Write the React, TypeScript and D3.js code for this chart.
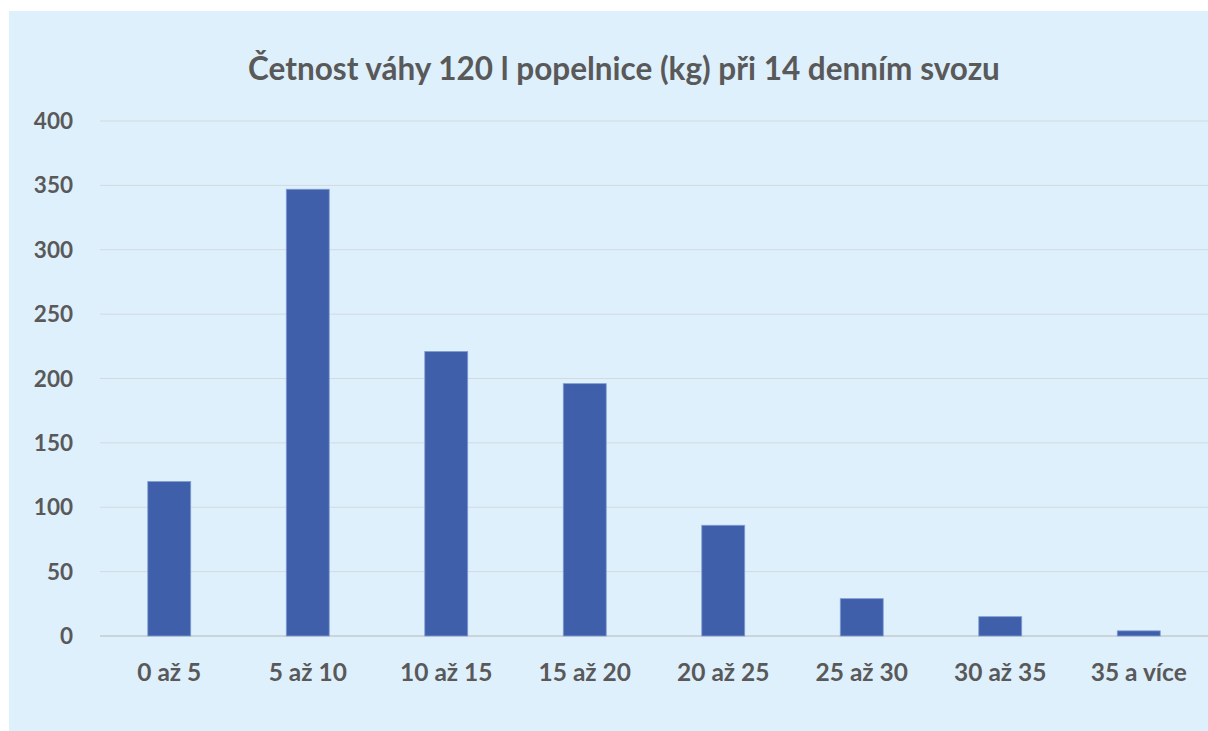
import React from "react";
import * as d3 from "d3";

const categories = ["0 až 5", "5 až 10", "10 až 15", "15 až 20", "20 až 25", "25 až 30", "30 až 35", "35 a více"];
const values = [120, 347, 221, 196, 86, 29, 15, 4];
const yTicks = [0, 50, 100, 150, 200, 250, 300, 350, 400];
const title = "Četnost váhy 120 l popelnice (kg) při 14 denním svozu";

const W = 1208;
const H = 731;

export default function App() {
  const x = d3
    .scaleBand<string>()
    .domain(categories)
    .range([100, 1208])
    .paddingInner(0.69)
    .paddingOuter(0.345);
  const y = d3.scaleLinear().domain([0, 400]).range([636, 121]);
  const font = "Lato, 'Open Sans', sans-serif";
  const textColor = "#595959";

  return (
    <svg
      width={W}
      height={H}
      style={{ position: "absolute", left: 0, top: 0, display: "block" }}
    >
      <rect x={0} y={0} width={W} height={H} fill="#ffffff" />
      <rect x={9} y={11} width={W - 9} height={H - 11} fill="#DFF0FD" />
      <text
        x={624}
        y={80}
        textAnchor="middle"
        fontFamily={font}
        fontWeight={700}
        fontSize={31.5}
        fill={textColor}
      >
        {title}
      </text>
      {yTicks.map((t) => (
        <g key={t}>
          <line
            x1={100}
            x2={1208}
            y1={y(t)}
            y2={y(t)}
            stroke={t === 0 ? "#CDD4D9" : "#D3D9DD"}
            strokeWidth={t === 0 ? 2 : 1}
          />
          <text
            x={73}
            y={y(t)}
            dy="0.36em"
            textAnchor="end"
            fontFamily={font}
            fontWeight={700}
            fontSize={22.5}
            fill={textColor}
          >
            {t}
          </text>
        </g>
      ))}
      {categories.map((c, i) => (
        <rect
          key={c}
          x={x(c)}
          y={y(values[i])}
          width={x.bandwidth()}
          height={y(0) - y(values[i])}
          fill="#3F5FAA"
          stroke="#7F9DD2"
          strokeWidth={0.8}
        />
      ))}
      {categories.map((c) => (
        <text
          key={c}
          x={(x(c) as number) + x.bandwidth() / 2}
          y={681}
          textAnchor="middle"
          fontFamily={font}
          fontWeight={700}
          fontSize={24.5}
          fill={textColor}
        >
          {c}
        </text>
      ))}
    </svg>
  );
}
